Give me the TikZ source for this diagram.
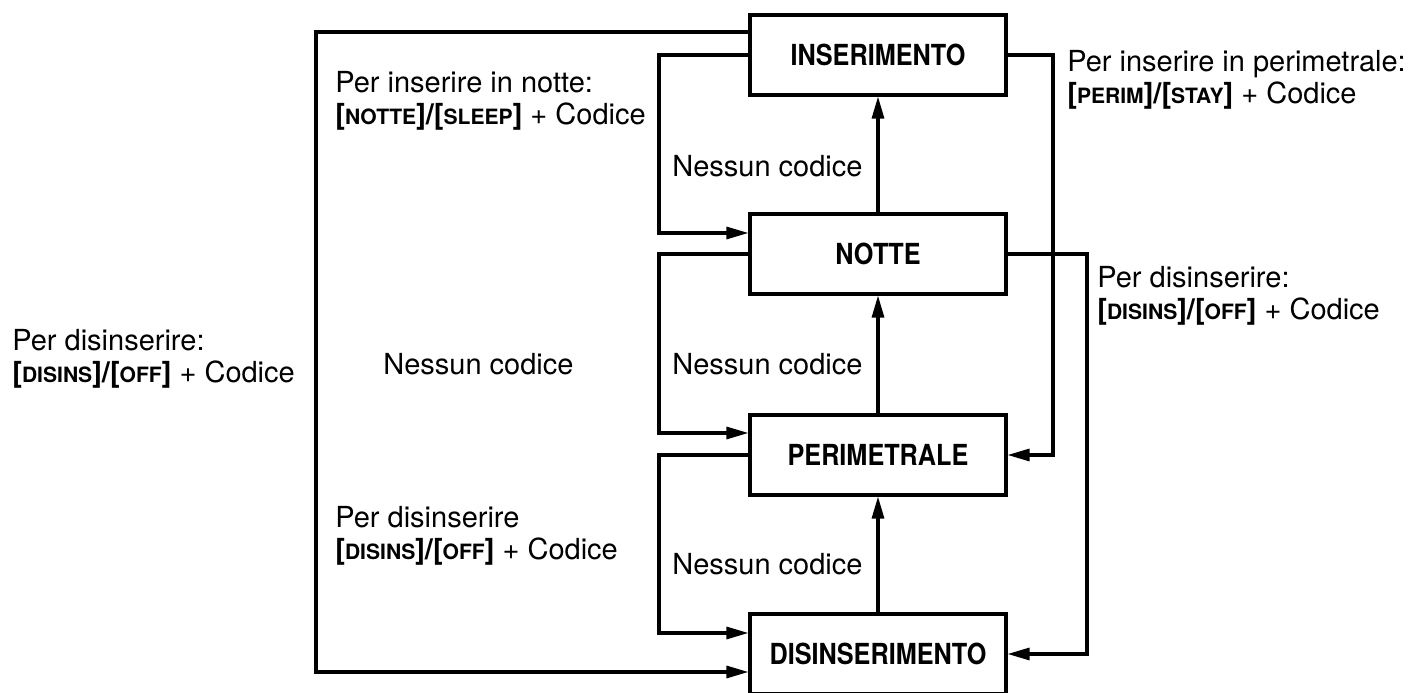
\documentclass[tikz,border=0pt]{standalone}
\usepackage{fontspec}
\setmainfont{TeX Gyre Heros}
\newfontfamily\statofont[FakeStretch=0.87]{TeX Gyre Heros}
\usetikzlibrary{arrows.meta}

\newcommand{\tasti}[2]{{\bfseries[{\fontsize{12}{12}\selectfont #1}]/[{\fontsize{12}{12}\selectfont #2}]}}

\begin{document}
\begin{tikzpicture}[
  stato/.style={draw, line width=1.75pt, minimum width=5.12cm, minimum height=1.6cm,
    font=\statofont\bfseries\fontsize{16.5}{18}\selectfont},
  linea/.style={line width=1.75pt},
  freccia/.style={line width=1.75pt, -{Triangle[length=0.44cm,width=0.24cm]}},
  testo/.style={align=left, inner sep=0pt, font=\fontsize{16.5}{18.2}\selectfont}
]
  \useasboundingbox (0,0) rectangle (28.34,13.86);

  % stati
  \node[stato] (ins) at (17.56,12.76) {INSERIMENTO};
  \node[stato] (notte) at (17.56,8.78) {NOTTE};
  \node[stato] (perim) at (17.56,4.76) {PERIMETRALE};
  \node[stato] (dis) at (17.56,0.78) {DISINSERIMENTO};

  % colonne dei collegamenti
  \coordinate (lx) at (13.18,0);
  \coordinate (ox) at (6.32,0);
  \coordinate (rxa) at (21.06,0);
  \coordinate (rxb) at (21.74,0);

  % nessun codice, verso l'alto
  \draw[freccia] (notte.north) -- (ins.south);
  \draw[freccia] (perim.north) -- (notte.south);
  \draw[freccia] (dis.north) -- (perim.south);

  % anelli a sinistra
  \draw[freccia] (ins.west) -- (ins.west -| lx) |- ([yshift=0.42cm]notte.west);
  \draw[freccia] (notte.west) -- (notte.west -| lx) |- ([yshift=0.44cm]perim.west);
  \draw[freccia] (perim.west) -- (perim.west -| lx) |- ([yshift=0.42cm]dis.west);
  \draw[freccia] ([yshift=0.46cm]ins.west) -- ([yshift=0.46cm]ins.west -| ox) |- ([yshift=-0.36cm]dis.west);

  % anelli a destra
  \draw[freccia] (ins.east) -- (ins.east -| rxa) |- (perim.east);
  \draw[freccia] (notte.east) -- (notte.east -| rxb) |- (dis.east);

  % etichette
  \node[testo, anchor=west] (tnotte) at (6.70,11.85) {Per inserire in notte:\\\tasti{NOTTE}{SLEEP} + Codice};
  \node[testo, anchor=west] (tperim) at (21.34,12.27) {Per inserire in perimetrale:\\\tasti{PERIM}{STAY} + Codice};
  \node[testo, anchor=west] (tdisa) at (21.94,7.94) {Per disinserire:\\\tasti{DISINS}{OFF} + Codice};
  \node[testo, anchor=west] (tdisb) at (0.24,6.68) {Per disinserire:\\\tasti{DISINS}{OFF} + Codice};
  \node[testo, anchor=west] (tdisc) at (6.70,3.14) {Per disinserire\\\tasti{DISINS}{OFF} + Codice};
  \node[testo, anchor=base west] (nc) at (7.66,6.36) {Nessun codice};
  \node[testo, anchor=base west] (nca) at (13.44,10.32) {Nessun codice};
  \node[testo, anchor=base west] (ncb) at (13.44,6.36) {Nessun codice};
  \node[testo, anchor=base west] (ncc) at (13.44,2.36) {Nessun codice};
\end{tikzpicture}
\end{document}
